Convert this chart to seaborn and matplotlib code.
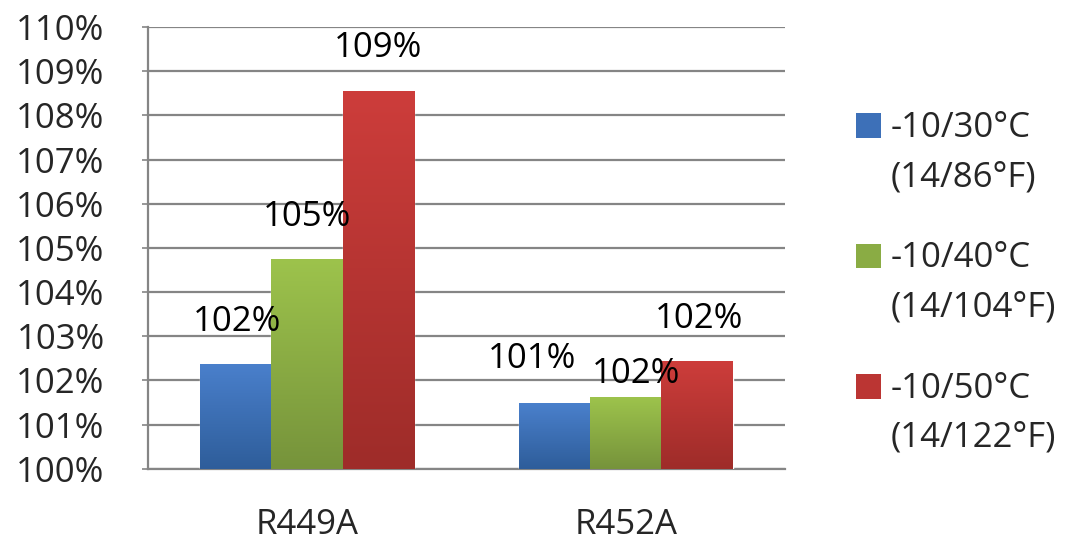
import numpy as np
import pandas as pd
import matplotlib
matplotlib.use("Agg")
import matplotlib.pyplot as plt
from matplotlib.patches import Patch
from matplotlib.colors import LinearSegmentedColormap
import seaborn as sns

# data
refrigerants = ["R449A", "R452A"]
conditions = ["-10/30°C\n(14/86°F)", "-10/40°C\n(14/104°F)", "-10/50°C\n(14/122°F)"]
cond_30 = [102.38, 101.49]
cond_40 = [104.75, 101.62]
cond_50 = [108.56, 102.43]
y_ticks = list(range(100, 111))

# styling
top_colors = ["#4a80cc", "#9dc34c", "#cd3d3b"]
bottom_colors = ["#2e5d9a", "#76933b", "#9e2c29"]
mid_colors = ["#3d70b8", "#8aac44", "#bb3533"]
# label offsets (pixels) from each bar's top centre, per condition, per refrigerant
label_offsets = [[(1, 42), (-23, 44)], [(0, 42), (10, 23)], [(0, 43), (2, 42)]]
FS = 25

df = pd.DataFrame({
    "Refrigerant": refrigerants * 3,
    "Condition": [c for c in conditions for _ in refrigerants],
    "Capacity": cond_30 + cond_40 + cond_50,
})

sns.set_style("white")
plt.rcParams["font.family"] = ["Open Sans", "DejaVu Sans"]

fig = plt.figure(figsize=(10.86, 5.42), dpi=100)
ax = fig.add_axes([0.136, 0.135, 0.587, 0.815])

sns.barplot(data=df, x="Refrigerant", y="Capacity", hue="Condition",
            hue_order=conditions, palette=mid_colors, width=0.67,
            legend=False, ax=ax, zorder=3)

ax.set_ylim(100, 110)
ax.set_xlim(-0.5, 1.5)

# gradient fill on each bar
for i, cont in enumerate(ax.containers):
    cmap = LinearSegmentedColormap.from_list(f"g{i}", [bottom_colors[i], top_colors[i]])
    grad = np.linspace(0, 1, 256).reshape(-1, 1)
    for j, bar in enumerate(cont):
        x0 = bar.get_x()
        w = bar.get_width()
        top = bar.get_height()
        im = ax.imshow(grad, cmap=cmap, origin="lower", aspect="auto",
                       extent=(x0, x0 + w, 100, top), zorder=4)
        im.set_clip_path(bar)
        dx, dy = label_offsets[i][j]
        ax.annotate(f"{top:.0f}%", (x0 + w / 2, top), xytext=(dx, dy),
                    textcoords="offset pixels", ha="center", va="center",
                    fontsize=FS, color="black", zorder=6)

ax.set_xlim(-0.5, 1.5)
ax.set_ylim(100, 110)

ax.set_yticks(y_ticks)
ax.set_yticklabels([f"{t}%" for t in y_ticks])
ax.yaxis.grid(True, color="#858585", linewidth=1.6, zorder=0)
ax.set_axisbelow(True)
ax.set_xlabel("")
ax.set_ylabel("")

for side in ["top", "right"]:
    ax.spines[side].set_visible(False)
for side in ["left", "bottom"]:
    ax.spines[side].set_color("#858585")
    ax.spines[side].set_linewidth(1.6)

ax.tick_params(axis="y", left=True, length=4, width=1.2, color="#858585",
               labelsize=FS, pad=27)
ax.tick_params(axis="x", bottom=False, labelsize=FS, pad=25)

handles = [Patch(facecolor=c, edgecolor="none") for c in mid_colors]
leg = fig.legend(handles, conditions, loc="center left", bbox_to_anchor=(0.759, 0.478),
                 frameon=False, fontsize=FS, handlelength=0.72, handleheight=0.72,
                 handletextpad=0.29, labelspacing=1.36)
for t in leg.get_texts():
    t.set_linespacing(1.58)
for p in leg.get_patches():
    p.set_y(p.get_y() + 20)

fig.savefig("out.png", dpi=100)
